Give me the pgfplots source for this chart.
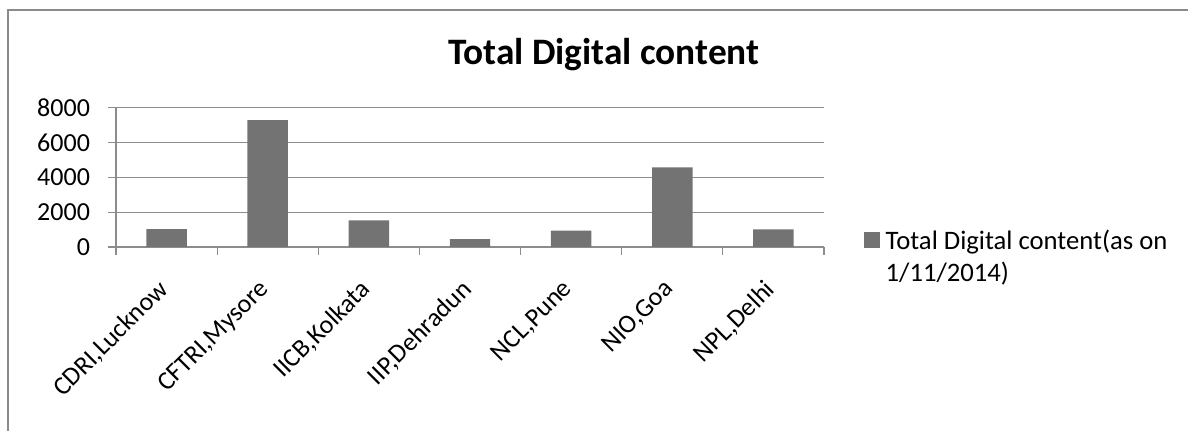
\documentclass[border=0pt]{standalone}
\usepackage{fontspec}
\setmainfont{Carlito}
\usepackage{pgfplots}
\pgfplotsset{compat=1.18}
\definecolor{barfill}{HTML}{737373}
\definecolor{gridc}{HTML}{8C8C8C}
\definecolor{framec}{HTML}{8A8A8A}

\begin{document}
\begin{tikzpicture}
% page area and the chart frame (its right and bottom edges lie off the page)
\useasboundingbox (0pt,0pt) rectangle (891pt,323.25pt);
\draw[framec, line width=1pt] (6pt,-10pt) -- (6pt,315.75pt) -- (900pt,315.75pt);
\begin{axis}[
  at={(87pt,138pt)}, anchor=south west,
  scale only axis, width=531pt, height=104.625pt,
  xmin=-0.5, xmax=6.5, ymin=0, ymax=8000,
  axis x line*=bottom, axis y line*=left,
  axis line style={gridc, line width=0.9pt},
  ytick={0,2000,4000,6000,8000},
  ymajorgrids, grid style={gridc, line width=0.9pt},
  xtick={0,...,6},
  xticklabels={CDRI{,}Lucknow, CFTRI{,}Mysore, IICB{,}Kolkata, IIP{,}Dehradun, NCL{,}Pune, NIO{,}Goa, NPL{,}Delhi},
  minor xtick={-0.5,0.5,...,6.5},
  major x tick style={draw=none},
  tick align=outside,
  major tick length=6pt, minor tick length=6pt,
  tick style={gridc, line width=0.9pt},
  scaled y ticks=false,
  /pgf/number format/assume math mode=true,
  /pgf/number format/1000 sep={},
  yticklabel style={font=\fontsize{19.5}{22}\selectfont, xshift=-10pt},
  xticklabel style={font=\fontsize{19.5}{22}\selectfont, xshift=-7.5pt, yshift=-15.75pt,
    rotate=45, anchor=north east, inner sep=1pt},
  title={\textbf{Total Digital content}},
  title style={font=\fontsize{28}{32}\selectfont, at={(0.689,1.248)}, anchor=base},
  legend style={at={(1.051,0.165)}, anchor=north west, draw=none, fill=none,
    font=\fontsize{20}{24}\selectfont, cells={align=left}},
  legend cell align=left,
  legend image code/.code={\fill[barfill] (0pt,6.5pt) rectangle (11.5pt,18pt); \path (14pt,7pt);},
]
\addplot[ybar, bar width=0.4, fill=barfill, draw=none] coordinates {
  (0,1030) (1,7280) (2,1530) (3,455) (4,935) (5,4570) (6,1015)
};
\addlegendentry{Total Digital content(as on\\1/11/2014)}
\end{axis}
\end{tikzpicture}
\end{document}
